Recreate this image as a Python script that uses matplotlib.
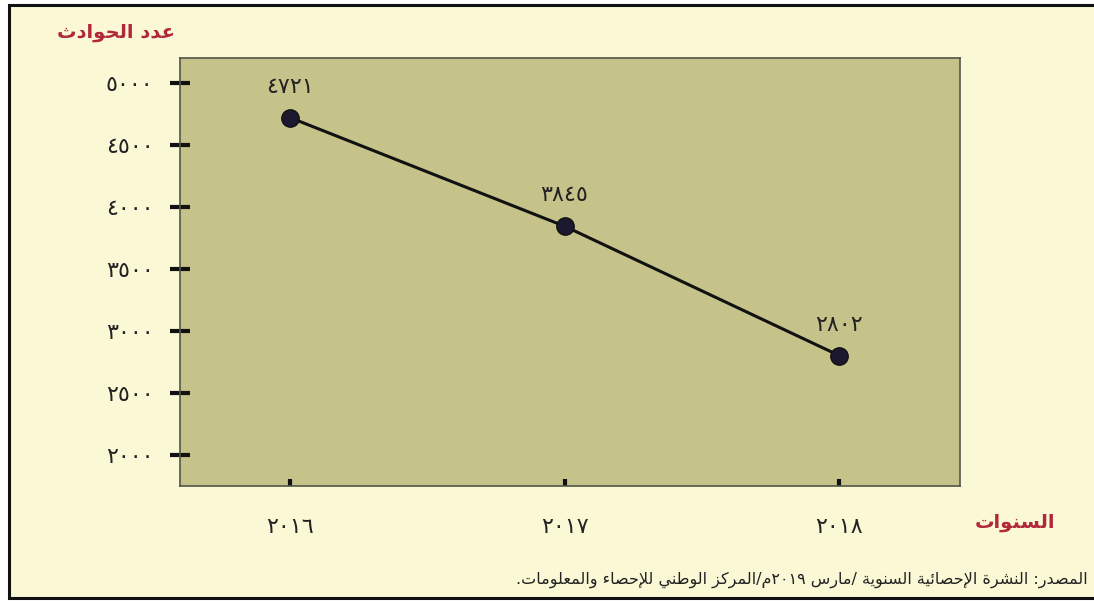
import re
import matplotlib
matplotlib.use("Agg")
import matplotlib.pyplot as plt
from matplotlib.patches import Rectangle

years = [2016, 2017, 2018]
year_labels = ["٢٠١٦", "٢٠١٧", "٢٠١٨"]
accidents = [4721, 3845, 2802]
value_labels = ["٤٧٢١", "٣٨٤٥", "٢٨٠٢"]
y_ticks = [2000, 2500, 3000, 3500, 4000, 4500, 5000]
y_tick_labels = ["٢٠٠٠", "٢٥٠٠", "٣٠٠٠", "٣٥٠٠", "٤٠٠٠", "٤٥٠٠", "٥٠٠٠"]

y_title = "عدد الحوادث"
x_title = "السنوات"
source = "المصدر: النشرة الإحصائية السنوية /مارس ٢٠١٩م/المركز الوطني للإحصاء والمعلومات."

# simple arabic shaping: presentation forms + visual order (no bidi lib here)
FORMS = {
    'ا': (0xFE8D, False), 'إ': (0xFE87, False), 'أ': (0xFE83, False),
    'ب': (0xFE8F, True), 'ة': (0xFE93, False), 'ت': (0xFE95, True),
    'ث': (0xFE99, True), 'ج': (0xFE9D, True), 'ح': (0xFEA1, True),
    'خ': (0xFEA5, True), 'د': (0xFEA9, False), 'ذ': (0xFEAB, False),
    'ر': (0xFEAD, False), 'ز': (0xFEAF, False), 'س': (0xFEB1, True),
    'ش': (0xFEB5, True), 'ص': (0xFEB9, True), 'ض': (0xFEBD, True),
    'ط': (0xFEC1, True), 'ظ': (0xFEC5, True), 'ع': (0xFEC9, True),
    'غ': (0xFECD, True), 'ف': (0xFED1, True), 'ق': (0xFED5, True),
    'ك': (0xFED9, True), 'ل': (0xFEDD, True), 'م': (0xFEE1, True),
    'ن': (0xFEE5, True), 'ه': (0xFEE9, True), 'و': (0xFEED, False),
    'ى': (0xFEEF, False), 'ي': (0xFEF1, True), 'ئ': (0xFE89, True),
}
LAMALEF = {'ا': (0xFEFB, 0xFEFC), 'إ': (0xFEF9, 0xFEFA),
           'أ': (0xFEF7, 0xFEF8), 'آ': (0xFEF5, 0xFEF6)}


def ar(s):
    out = []
    n = len(s)
    i = 0
    while i < n:
        c = s[i]
        if c not in FORMS:
            out.append(c)
            i += 1
            continue
        prev = s[i - 1] if i > 0 else ''
        linked_prev = prev in FORMS and FORMS[prev][1]
        if c == 'ل' and i + 1 < n and s[i + 1] in LAMALEF:
            iso, fin = LAMALEF[s[i + 1]]
            out.append(chr(fin if linked_prev else iso))
            i += 2
            continue
        nxt = s[i + 1] if i + 1 < n else ''
        base, dual = FORMS[c]
        linked_next = dual and nxt in FORMS
        if linked_prev and linked_next:
            f = base + 3
        elif linked_prev:
            f = base + 1
        elif linked_next:
            f = base + 2
        else:
            f = base
        out.append(chr(f))
        i += 1
    vis = ''.join(out)[::-1]
    return re.sub(r'[0-9\u0660-\u0669]+', lambda m: m.group(0)[::-1], vis)


plt.rcParams['font.family'] = ['DejaVu Sans']

bg = '#fbf8d6'
face = '#c5c28a'
red = '#b0283a'

fig = plt.figure(figsize=(10.94, 6.03), dpi=100, facecolor='white')
fig.patches.append(Rectangle((9 / 1094, 5 / 603), 1.0, 593 / 603, transform=fig.transFigure,
                             facecolor=bg, edgecolor='#111111', linewidth=2.2, zorder=-10))

ax = fig.add_axes([180 / 1094, 1 - 486 / 603, 780 / 1094, 428 / 603])
ax.set_facecolor(face)
for sp in ax.spines.values():
    sp.set_color('#555548')
    sp.set_linewidth(1.2)

ax.plot(years, accidents, color='#111111', linewidth=2.2, marker='o', markersize=12.5,
        markerfacecolor='#1c1830', markeredgecolor='#111111', zorder=3)
for x, y, lab in zip(years, accidents, value_labels):
    ax.annotate(lab, (x, y), xytext=(0, 15), textcoords='offset points', ha='center',
                va='bottom', fontsize=16, color='#222222')

ax.set_xlim(2015.6, 2018.44)
ax.set_ylim(1750, 5201)
ax.set_xticks(years)
ax.set_xticklabels(year_labels)
ax.set_yticks(y_ticks)
ax.set_yticklabels(y_tick_labels)
ax.tick_params(axis='y', direction='inout', length=14, width=3, color='#111111',
               labelsize=16, labelcolor='#222222', pad=12)
ax.tick_params(axis='x', direction='in', length=5, width=3, color='#111111',
               labelsize=16, labelcolor='#222222', pad=22)

fig.text(175 / 1094, 1 - 33 / 603, ar(y_title), ha='right', va='center', fontsize=14,
         fontweight='bold', color=red)
fig.text(1055 / 1094, 1 - 523 / 603, ar(x_title), ha='right', va='center', fontsize=14,
         fontweight='bold', color=red)
fig.text(1088 / 1094, 1 - 580 / 603, ar(source), ha='right', va='center', fontsize=11.5,
         color='#222222')

fig.savefig('out.png', dpi=100, facecolor=fig.get_facecolor())
